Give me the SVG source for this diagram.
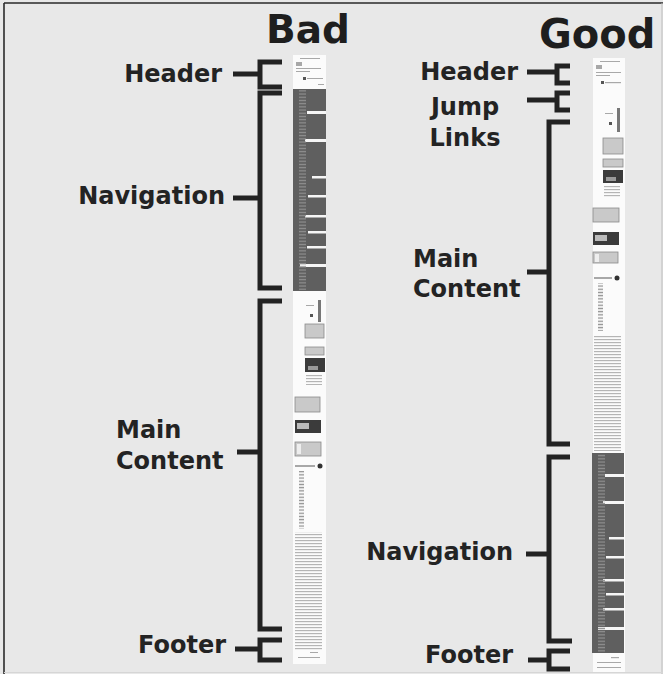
<svg xmlns="http://www.w3.org/2000/svg" width="663" height="674" viewBox="0 0 663 674">
<style>
.lbl{font-family:"DejaVu Sans","Verdana",sans-serif;font-weight:bold;font-size:24px;fill:#232323}
.ttl{font-family:"DejaVu Sans","Verdana",sans-serif;font-weight:bold;fill:#1e1e1e}
.br{fill:none;stroke:#222;stroke-width:5;stroke-linejoin:miter;stroke-linecap:butt}
.nav{fill:#5e5e5e}
.bar{fill:#f6f6f6}
.pg{fill:#fbfbfb}
.img{fill:#c9c9c9;stroke:#8a8a8a;stroke-width:0.8}
.dimg{fill:#3a3a3a}
.ln{fill:#a8a8a8}
.thumb{filter:url(#soft)}
</style>
<defs>
<filter id="soft" x="-5%" y="-1%" width="110%" height="102%">
<feGaussianBlur stdDeviation="0.45"/>
</filter>
<pattern id="txtL" x="295" y="0" width="28" height="3" patternUnits="userSpaceOnUse">
<rect x="0" y="0" width="27" height="1.2" fill="#b5b5b5"/>
</pattern>
<pattern id="txtR" x="594" y="0" width="28" height="3" patternUnits="userSpaceOnUse">
<rect x="0" y="0" width="27" height="1.2" fill="#b5b5b5"/>
</pattern>
<pattern id="lnk" width="13" height="3.2" patternUnits="userSpaceOnUse">
<rect x="0" y="0.6" width="8" height="1.3" fill="#909090"/>
</pattern>
</defs>

<rect x="0" y="0" width="663" height="674" fill="#e8e8e8"/>
<line x1="4" y1="3" x2="663" y2="3" stroke="#2a2a2a" stroke-width="1.6"/>
<line x1="4" y1="3" x2="4" y2="674" stroke="#2a2a2a" stroke-width="1.6"/>
<line x1="662" y1="3" x2="662" y2="674" stroke="#bdbdbd" stroke-width="1"/>
<line x1="4" y1="672.5" x2="663" y2="672.5" stroke="#d6d6d6" stroke-width="1"/>

<text class="ttl" x="266" y="43" font-size="39">Bad</text>
<text class="ttl" x="539" y="48" font-size="40">Good</text>

<!-- Bad page thumbnail -->
<g id="bad-page" class="thumb">
<rect class="pg" x="293" y="55" width="33" height="609"/>
<rect class="ln" x="300" y="58" width="20" height="1"/>
<rect class="ln" x="296" y="62" width="6" height="4"/>
<rect class="ln" x="296" y="68" width="25" height="1"/>
<rect class="ln" x="296" y="71" width="14" height="1"/>
<rect x="303" y="77" width="3" height="3" fill="#555"/>
<rect class="ln" x="307" y="78" width="16" height="1"/>
<rect class="ln" x="318" y="84" width="6" height="1"/>
<rect class="nav" x="293" y="89" width="33" height="202"/>
<rect class="bar" x="307" y="111" width="19" height="3"/>
<rect class="bar" x="305" y="139" width="21" height="3"/>
<rect class="bar" x="312" y="176" width="14" height="2.5"/>
<rect class="bar" x="308" y="195" width="18" height="2.5"/>
<rect class="bar" x="305" y="215" width="21" height="2.5"/>
<rect class="bar" x="308" y="231" width="18" height="2.5"/>
<rect class="bar" x="307" y="246" width="19" height="2.5"/>
<rect class="bar" x="300" y="264" width="26" height="3"/>
<rect x="294" y="90" width="12" height="200" fill="url(#lnk)"/>
<rect x="318" y="300" width="3" height="22" fill="#777"/>
<rect class="ln" x="306" y="305" width="8" height="1"/>
<rect x="310" y="314" width="3" height="3" fill="#555"/>
<rect class="img" x="305" y="324" width="19" height="14"/>
<rect class="img" x="305" y="347" width="19" height="8" fill="#eee"/>
<rect class="dimg" x="305" y="358" width="20" height="14"/>
<rect x="308" y="366" width="10" height="4" fill="#9a9a9a"/>
<rect x="306" y="375" width="16" height="10" fill="url(#txtL)"/>
<rect class="img" x="295" y="397" width="25" height="15" fill="#dadada"/>
<rect class="dimg" x="295" y="420" width="26" height="13" fill="#555"/>
<rect x="297" y="423" width="12" height="6" fill="#bbb"/>
<rect class="img" x="295" y="442" width="26" height="14" fill="#9f9f9f"/>
<rect x="297" y="444" width="4" height="10" fill="#eee"/>
<rect class="ln" x="295" y="465" width="20" height="2"/>
<circle cx="320" cy="466" r="2.5" fill="#333"/>
<rect x="295" y="471" width="9" height="58" fill="url(#lnk)"/>
<rect x="295" y="532" width="28" height="118" fill="url(#txtL)"/>
<rect class="ln" x="310" y="652" width="8" height="1"/>
<rect class="ln" x="298" y="657" width="22" height="1"/>
</g>

<!-- Good page thumbnail -->
<g id="good-page" class="thumb">
<rect class="pg" x="593" y="58" width="32" height="614"/>
<rect class="ln" x="600" y="61" width="20" height="1"/>
<rect class="ln" x="596" y="65" width="6" height="4"/>
<rect class="ln" x="596" y="72" width="25" height="1"/>
<rect class="ln" x="596" y="75" width="14" height="1"/>
<rect x="601" y="81" width="3" height="3" fill="#555"/>
<rect class="ln" x="605" y="82" width="16" height="1.2"/>
<rect x="617" y="108" width="3" height="24" fill="#777"/>
<rect class="ln" x="605" y="113" width="8" height="1"/>
<rect x="609" y="122" width="3" height="3" fill="#555"/>
<rect class="img" x="603" y="138" width="20" height="16"/>
<rect class="img" x="603" y="159" width="20" height="8" fill="#eee"/>
<rect class="dimg" x="603" y="170" width="20" height="13"/>
<rect x="606" y="177" width="10" height="4" fill="#9a9a9a"/>
<rect x="604" y="186" width="16" height="12" fill="url(#txtR)"/>
<rect class="img" x="593" y="208" width="26" height="14" fill="#dadada"/>
<rect class="dimg" x="593" y="232" width="26" height="13" fill="#555"/>
<rect x="595" y="235" width="12" height="6" fill="#bbb"/>
<rect class="img" x="593" y="252" width="25" height="11" fill="#9f9f9f"/>
<rect x="595" y="254" width="4" height="8" fill="#eee"/>
<rect class="ln" x="594" y="277" width="18" height="2"/>
<circle cx="617" cy="278" r="2.5" fill="#333"/>
<rect x="594" y="283" width="9" height="48" fill="url(#lnk)"/>
<rect x="594" y="335" width="28" height="116" fill="url(#txtR)"/>
<rect class="nav" x="592" y="453" width="32" height="200"/>
<rect class="bar" x="605" y="474" width="19" height="3"/>
<rect class="bar" x="603" y="501" width="21" height="3"/>
<rect class="bar" x="609" y="537" width="15" height="2.5"/>
<rect class="bar" x="606" y="556" width="18" height="2.5"/>
<rect class="bar" x="603" y="579" width="21" height="2.5"/>
<rect class="bar" x="606" y="593" width="18" height="2.5"/>
<rect class="bar" x="603" y="608" width="21" height="2.5"/>
<rect class="bar" x="598" y="627" width="26" height="3"/>
<rect x="593" y="454" width="12" height="198" fill="url(#lnk)"/>
<rect class="ln" x="611" y="657" width="8" height="1.2"/>
<rect class="ln" x="597" y="662" width="24" height="1"/>
<rect class="ln" x="597" y="667" width="24" height="1"/>
</g>

<!-- Bad labels -->
<g id="bad-header">
<text class="lbl" x="222" y="82" text-anchor="end">Header</text>
</g>
<g id="bad-navigation">
<text class="lbl" x="225" y="204" text-anchor="end">Navigation</text>
</g>
<g id="bad-main-content">
<text class="lbl" x="116" y="438">Main</text>
<text class="lbl" x="116" y="469">Content</text>
</g>
<g id="bad-footer">
<text class="lbl" x="226" y="653" text-anchor="end">Footer</text>
</g>

<!-- Good labels -->
<g id="good-header">
<text class="lbl" x="518" y="80" text-anchor="end">Header</text>
</g>
<g id="good-jump-links">
<text class="lbl" x="465" y="115" text-anchor="middle">Jump</text>
<text class="lbl" x="465" y="146" text-anchor="middle">Links</text>
</g>
<g id="good-main-content">
<text class="lbl" x="413" y="267">Main</text>
<text class="lbl" x="413" y="297">Content</text>
</g>
<g id="good-navigation">
<text class="lbl" x="513" y="560" text-anchor="end">Navigation</text>
</g>
<g id="good-footer">
<text class="lbl" x="513" y="663" text-anchor="end">Footer</text>
</g>

<!-- connectors: brackets -->
<g id="connectors" class="br">
<path d="M233,74 H260 M282,62 H260 V87 H282"/>
<path d="M233,198 H260 M282,93 H260 V288 H282"/>
<path d="M237,452 H260 M282,301 H260 V629 H282"/>
<path d="M235,649 H260 M282,640 H260 V660 H282"/>
<path d="M527,72 H557 M570,66 H557 V83 H570"/>
<path d="M527,100 H557 M570,93 H557 V110 H570"/>
<path d="M527,272 H549 M570,122 H549 V444 H570"/>
<path d="M526,554 H549 M570,457 H549 V641 H572"/>
<path d="M528,660 H549 M570,651 H549 V669 H570"/>
</g>
</svg>
